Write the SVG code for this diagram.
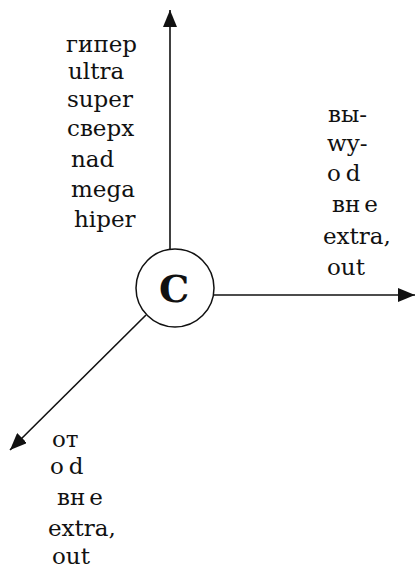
<svg xmlns="http://www.w3.org/2000/svg" width="416" height="569" viewBox="0 0 416 569">
  <style>
    .lbl { font-family: "DejaVu Serif", "Liberation Serif", serif; font-size: 23px; fill: #111111; }
    .ctr { font-family: "DejaVu Serif", "Liberation Serif", serif; font-size: 38px; font-weight: bold; fill: #111111; text-anchor: middle; }
    .edge { stroke: #111111; stroke-width: 1.6; fill: none; marker-end: url(#arr); }
    .node { stroke: #111111; stroke-width: 1.5; fill: #ffffff; }
  </style>
  <defs>
    <marker id="arr" markerUnits="userSpaceOnUse" viewBox="0 0 17 14" refX="17" refY="7" markerWidth="17" markerHeight="14" orient="auto">
      <path d="M0,0 L17,7 L0,14 z" fill="#111111"/>
    </marker>
  </defs>
  <rect width="416" height="569" fill="#ffffff"/>
  <g id="connectors">
    <line class="edge" x1="170" y1="250" x2="170" y2="10"/>
    <line class="edge" x1="213" y1="295" x2="415" y2="295"/>
    <line class="edge" x1="146" y1="315" x2="10" y2="450"/>
  </g>
  <g id="node-c">
    <circle class="node" cx="175" cy="288" r="39"/>
    <text class="ctr" x="174" y="302">C</text>
  </g>
  <g id="labels-up">
    <text class="lbl" x="66" y="52">гипер</text>
    <text class="lbl" x="68" y="79">ultra</text>
    <text class="lbl" x="67" y="107">super</text>
    <text class="lbl" x="67" y="136">сверх</text>
    <text class="lbl" x="71" y="167">nad</text>
    <text class="lbl" x="71" y="197">mega</text>
    <text class="lbl" x="74" y="227">hiper</text>
  </g>
  <g id="labels-right">
    <text class="lbl" x="328" y="122">вы-</text>
    <text class="lbl" x="327" y="151">wy-</text>
    <text class="lbl" x="327" y="181">o<tspan dx="5">d</tspan></text>
    <text class="lbl" x="332" y="212">вн<tspan dx="4">е</tspan></text>
    <text class="lbl" x="323" y="244">extra,</text>
    <text class="lbl" x="327" y="275">out</text>
  </g>
  <g id="labels-down">
    <text class="lbl" x="52" y="447">от</text>
    <text class="lbl" x="50" y="474">o<tspan dx="5">d</tspan></text>
    <text class="lbl" x="57" y="505">вн<tspan dx="4">е</tspan></text>
    <text class="lbl" x="48" y="536">extra,</text>
    <text class="lbl" x="52" y="564">out</text>
  </g>
</svg>
